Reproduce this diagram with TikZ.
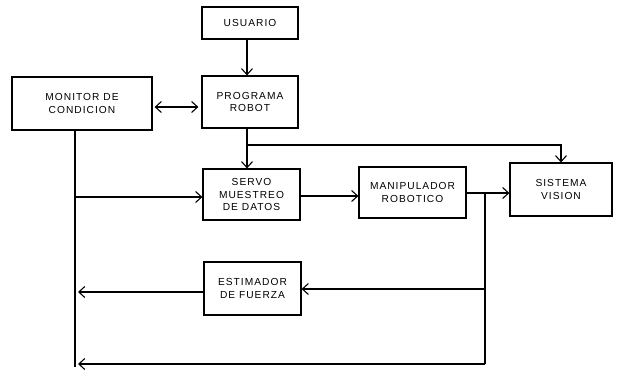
\documentclass[tikz,border=0pt]{standalone}
\usepackage{fontspec}
\setmainfont{Liberation Sans}
\usetikzlibrary{arrows.meta}
\begin{document}
\begin{tikzpicture}[x=1pt,y=-1pt,
  line width=1.2pt,
  blk/.style={draw, line width=1.2pt, align=center, inner sep=0pt,
    font=\fontsize{10.2}{12.5}\selectfont\addfontfeature{LetterSpace=10}},
  arr/.style={-{Straight Barb[length=6pt,width=11pt,line width=1.1pt]}},
  darr/.style={{Straight Barb[length=6pt,width=11pt,line width=1.1pt]}-{Straight Barb[length=6pt,width=11pt,line width=1.1pt]}}]
\useasboundingbox (0,0) rectangle (618,370);

% blocks
\node[blk, minimum width=96pt, minimum height=32pt] (usr) at (250,23) {USUARIO};
\node[blk, minimum width=96pt, minimum height=52pt] (prog) at (250,102) {PROGRAMA\\ROBOT};
\node[blk, minimum width=140pt, minimum height=53pt] (mon) at (82,103.5) {MONITOR DE\\CONDICION};
\node[blk, minimum width=97pt, minimum height=51pt] (servo) at (251.5,194.5) {SERVO\\MUESTREO\\DE DATOS};
\node[blk, minimum width=107pt, minimum height=51pt] (manip) at (412.5,192.5) {MANIPULADOR\\ROBOTICO};
\node[blk, minimum width=102pt, minimum height=53pt] (vis) at (561,189.5) {SISTEMA\\VISION};
\node[blk, minimum width=97pt, minimum height=53pt] (est) at (252.5,288.5) {ESTIMADOR\\DE FUERZA};

% junction points of the wiring
\coordinate (pb) at (247,145);
\coordinate (vb) at (561,145);
\coordinate (ml) at (75,130);
\coordinate (mlow) at (75,367);
\coordinate (ms) at (75,197);
\coordinate (jm) at (485,193);
\coordinate (je) at (485,289);
\coordinate (jb) at (485,364);
\coordinate (fe) at (78,292);
\coordinate (fb) at (78,364);

% connectors
\draw[arr] (usr.south -| pb) -- (prog.north -| pb);
\draw[darr, shorten <=2pt, shorten >=3pt] (mon.east |- 0,107) -- (prog.west |- 0,107);
\draw[arr] (prog.south -| pb) -- (servo.north -| pb);
\draw[arr] (pb) -- (vb) -- (vis.north);
\draw (ml) -- (mlow);
\draw[arr] (ms) -- (servo.west |- ms);
\draw[arr] (servo.east |- 0,196) -- (manip.west |- 0,196);
\draw[arr] (manip.east |- jm) -- (vis.west |- jm);
\draw (jm) -- (jb);
\draw[arr] (je) -- (est.east |- je);
\draw[arr] (est.west |- fe) -- (fe);
\draw[arr] (jb) -- (fb);
\end{tikzpicture}
\end{document}
